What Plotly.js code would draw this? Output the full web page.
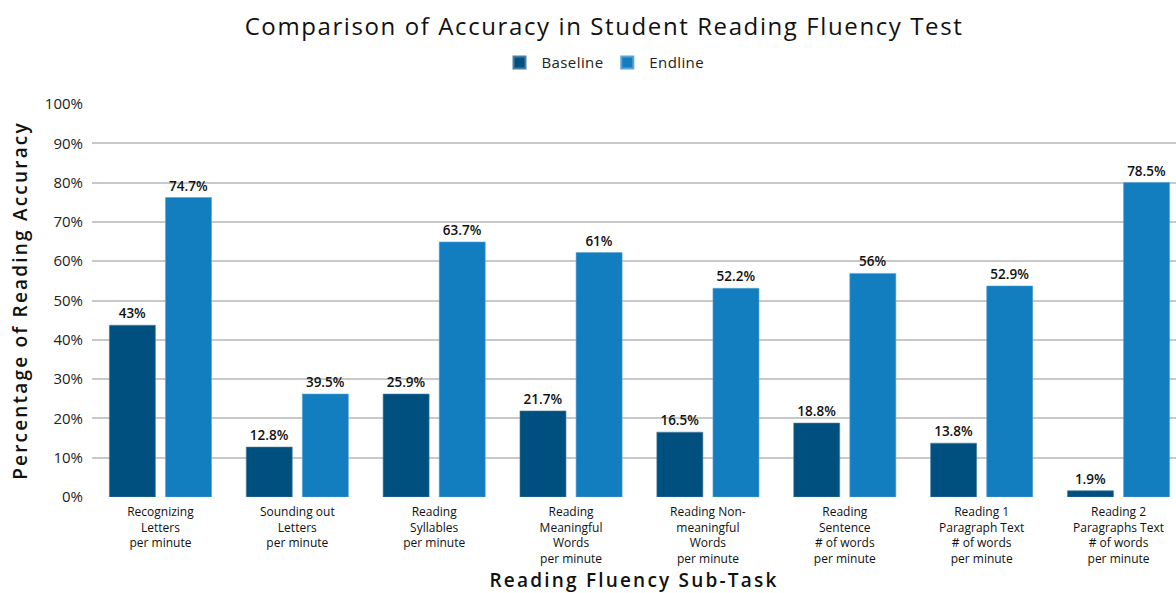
<!DOCTYPE html>
<html>
<head>
<meta charset="utf-8">
<script src="https://cdn.plot.ly/plotly-3.0.1.min.js"></script>
<style>
html,body{margin:0;padding:0;background:#fff;}
#chart{width:1176px;height:593px;}
#chart .gtitle{letter-spacing:1.6px;}
#chart .ytitle{letter-spacing:2.2px;}
#chart .xtitle{letter-spacing:2.2px;}
#chart .legendtext{letter-spacing:0.4px;}
</style>
</head>
<body>
<div id="chart"></div>
<script>
const categories = [
  "Recognizing<br>Letters<br>per minute",
  "Sounding out<br>Letters<br>per minute",
  "Reading<br>Syllables<br>per minute",
  "Reading<br>Meaningful<br>Words<br>per minute",
  "Reading Non-<br>meaningful<br>Words<br>per minute",
  "Reading<br>Sentence<br># of words<br>per minute",
  "Reading 1<br>Paragraph Text<br># of words<br>per minute",
  "Reading 2<br>Paragraphs Text<br># of words<br>per minute"
];
// bar heights as drawn in the picture
const baselineValues = [43.7, 12.7, 26.2, 21.9, 16.5, 18.8, 13.7, 1.6];
const endlineValues = [76.2, 26.2, 64.9, 62.2, 53.1, 56.9, 53.7, 80.0];
// data labels as printed
const baselineLabels = ["43%", "12.8%", "25.9%", "21.7%", "16.5%", "18.8%", "13.8%", "1.9%"];
const endlineLabels = ["74.7%", "39.5%", "63.7%", "61%", "52.2%", "56%", "52.9%", "78.5%"];
const yTicks = [0, 10, 20, 30, 40, 50, 60, 70, 80, 90, 100];
const yTickLabels = yTicks.map(v => v + "%");

const FONT = "'Open Sans', 'Noto Sans', sans-serif";

const common = {
  type: "bar",
  x: categories,
  textposition: "outside",
  cliponaxis: false,
  textfont: {family: FONT, size: 13.5, color: "#111", weight: 600},
  hoverinfo: "none"
};

const traces = [
  Object.assign({}, common, {
    name: "Baseline", y: baselineValues, text: baselineLabels,
    marker: {color: "#00507f", line: {color: "#4a7fa3", width: 0.6}}
  }),
  Object.assign({}, common, {
    name: "Endline", y: endlineValues, text: endlineLabels,
    marker: {color: "#127dbf", line: {color: "#5aa3d3", width: 0.6}}
  })
];

const layout = {
  width: 1176, height: 593,
  margin: {l: 92, r: 0, t: 104, b: 96},
  paper_bgcolor: "#fff", plot_bgcolor: "#fff",
  font: {family: FONT, color: "#111"},
  barmode: "group",
  bargap: 0.18,
  bargroupgap: 0.18,
  showlegend: true,
  title: {
    text: "Comparison of Accuracy in Student Reading Fluency Test",
    font: {family: FONT, size: 24, color: "#111"},
    x: 604 / 1176, xanchor: "center", xref: "container",
    y: 0.955, yanchor: "middle"
  },
  legend: {
    orientation: "h", x: (602 - 92) / 1084, xanchor: "center", xref: "paper",
    y: 1.105, yanchor: "middle",
    font: {family: FONT, size: 15, color: "#222"},
    itemsizing: "constant", traceorder: "normal", itemwidth: 34
  },
  xaxis: {
    type: "category",
    range: [-0.5, 7.42],
    showgrid: false, zeroline: false, showline: false,
    ticks: "",
    ticklabelstandoff: 6,
    tickfont: {family: FONT, size: 12, color: "#111"},
    title: {text: "Reading Fluency Sub-Task", font: {family: FONT, size: 19, color: "#111", weight: 600}, standoff: 2}
  },
  yaxis: {
    range: [0, 100],
    tickvals: yTicks, ticktext: yTickLabels,
    showgrid: true, gridcolor: "#c9c9c9", gridwidth: 2,
    zeroline: false, showline: false, ticks: "",
    tickfont: {family: FONT, size: 15, color: "#222"},
    ticklabelstandoff: 8,
    title: {text: "Percentage of Reading Accuracy", font: {family: FONT, size: 19, color: "#111", weight: 600}, standoff: 12}
  }
};

Plotly.newPlot("chart", traces, layout, {displayModeBar: false, staticPlot: true});
</script>
</body>
</html>
